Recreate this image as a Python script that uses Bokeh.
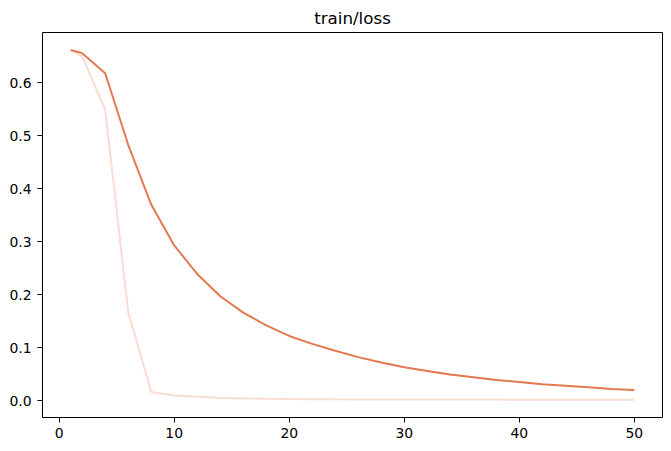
from bokeh.plotting import figure
from bokeh.models import FixedTicker, NumeralTickFormatter, Range1d
from bokeh.embed import file_html
from bokeh.resources import INLINE

steps = [1, 2, 4, 6, 8, 10, 12, 14, 16, 18, 20, 22, 24, 26, 28, 30,
         32, 34, 36, 38, 40, 42, 44, 46, 48, 50]
loss_smoothed = [0.662, 0.656, 0.618, 0.483, 0.370, 0.293, 0.239, 0.197, 0.166,
                 0.142, 0.122, 0.107, 0.094, 0.082, 0.072, 0.063, 0.056, 0.049,
                 0.044, 0.039, 0.035, 0.031, 0.028, 0.025, 0.022, 0.020]
loss_raw = [0.662, 0.650, 0.550, 0.167, 0.016, 0.0095, 0.0070, 0.0052, 0.0041,
            0.0033, 0.0028, 0.0025, 0.0023, 0.0022, 0.0021, 0.0020, 0.0019, 0.0019,
            0.0018, 0.0018, 0.0017, 0.0017, 0.0016, 0.0016, 0.0016, 0.0015]
x_ticks = [0, 10, 20, 30, 40, 50]
y_ticks = [0.0, 0.1, 0.2, 0.3, 0.4, 0.5, 0.6]
title_text = "train/loss"

color = "#e4784f"
font = "DejaVu Sans"

p = figure(width=668, height=448, output_backend="svg", toolbar_location=None,
           title=title_text,
           x_range=Range1d(-1.45, 52.45), y_range=Range1d(-0.032, 0.695),
           min_border_left=42, min_border_right=6, min_border_top=32,
           min_border_bottom=31)

p.line(steps, loss_raw, line_color=color, line_alpha=0.25, line_width=2)
p.line(steps, loss_smoothed, line_color=color, line_width=2)

p.title.align = "center"
p.title.text_font = font
p.title.text_font_size = "16.7px"
p.title.text_font_style = "normal"
p.title.text_color = "black"

p.grid.visible = False
p.outline_line_color = "black"
p.outline_line_width = 1
p.outline_line_alpha = 1

for ax in (p.xaxis[0], p.yaxis[0]):
    ax.axis_line_color = None
    ax.major_tick_line_color = "black"
    ax.major_tick_in = 0
    ax.major_tick_out = 5
    ax.minor_tick_line_color = None
    ax.major_label_text_font = font
    ax.major_label_text_font_size = "13.9px"
    ax.major_label_text_color = "black"

p.xaxis.major_label_standoff = 5
p.yaxis.major_label_standoff = 6
p.xaxis.ticker = FixedTicker(ticks=x_ticks)
p.yaxis.ticker = FixedTicker(ticks=y_ticks)
p.yaxis.formatter = NumeralTickFormatter(format="0.0")

open("out.html", "w").write(file_html(p, INLINE))
